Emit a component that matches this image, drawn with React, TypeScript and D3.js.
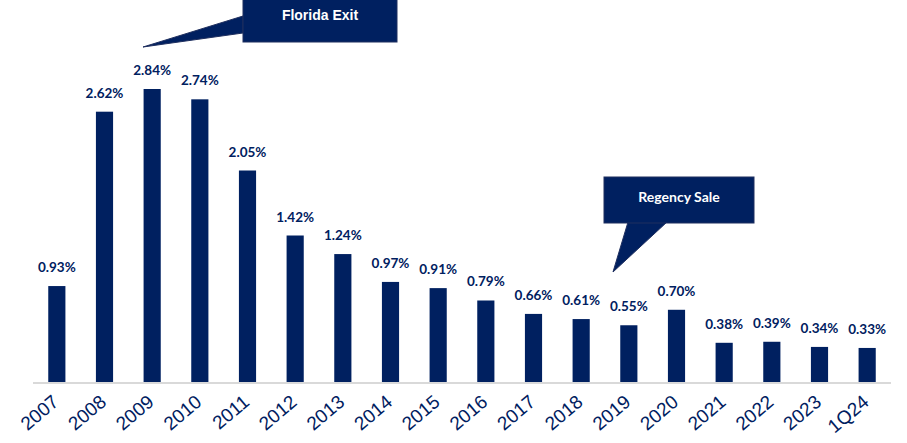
import React from "react";
import * as d3 from "d3";

const categories = ["2007", "2008", "2009", "2010", "2011", "2012", "2013", "2014", "2015", "2016", "2017", "2018", "2019", "2020", "2021", "2022", "2023", "1Q24"];
const rates = [0.93, 2.62, 2.84, 2.74, 2.05, 1.42, 1.24, 0.97, 0.91, 0.79, 0.66, 0.61, 0.55, 0.70, 0.38, 0.39, 0.34, 0.33];

const navy = "#002060";

export default function App() {
  const width = 907;
  const height = 443;
  const baseY = 382;
  const x = d3.scaleBand<string>().domain(categories).range([33, 891]).paddingInner(0.64).paddingOuter(0.32);
  const y = d3.scaleLinear().domain([0, 2.84]).range([baseY, 89]);

  return (
    <svg width={width} height={height} style={{ position: "absolute", left: 0, top: 0, background: "#fff" }}>
      {/* bars */}
      {categories.map((c, i) => (
        <rect key={c} x={x(c)} y={y(rates[i])} width={x.bandwidth()} height={baseY - y(rates[i])} fill={navy} />
      ))}
      {/* axis line */}
      <line x1={33} x2={891} y1={baseY + 1} y2={baseY + 1} stroke="#d9d9d9" strokeWidth={2} />
      {/* value labels */}
      {categories.map((c, i) => (
        <text key={c} x={(x(c) as number) + x.bandwidth() / 2} y={y(rates[i]) - 14}
          textAnchor="middle" fontFamily="Lato" fontWeight="bold" fontSize={13.5} fill={navy}>
          {d3.format(".2f")(rates[i])}%
        </text>
      ))}
      {/* category labels */}
      {categories.map((c) => {
        const cx = (x(c) as number) + x.bandwidth() / 2 + 3;
        return (
          <text key={c} transform={`translate(${cx},${baseY + 22}) rotate(-40)`} textAnchor="end"
            fontFamily="Liberation Sans, Arial" fontSize={19} fill={navy}>
            {c}
          </text>
        );
      })}
      {/* Florida Exit callout */}
      <path d="M243,16 L143,47 L243,33 Z" fill={navy} stroke="#1f2f5f" strokeWidth={1} />
      <rect x={243} y={-2} width={154} height={44} fill={navy} stroke="#1f2f5f" strokeWidth={1} />
      <text x={320} y={20} textAnchor="middle" fontFamily="Liberation Sans, Arial" fontWeight="bold" fontSize={14} fill="#fff">Florida Exit</text>
      {/* Regency Sale callout */}
      <path d="M628,222 L613,272 L667,222 Z" fill={navy} stroke="#1f2f5f" strokeWidth={1} />
      <rect x={604} y={177} width={150} height={46} fill={navy} stroke="#1f2f5f" strokeWidth={1} />
      <text x={679} y={202} textAnchor="middle" fontFamily="Lato" fontWeight="bold" fontSize={14} fill="#fff">Regency Sale</text>
    </svg>
  );
}
